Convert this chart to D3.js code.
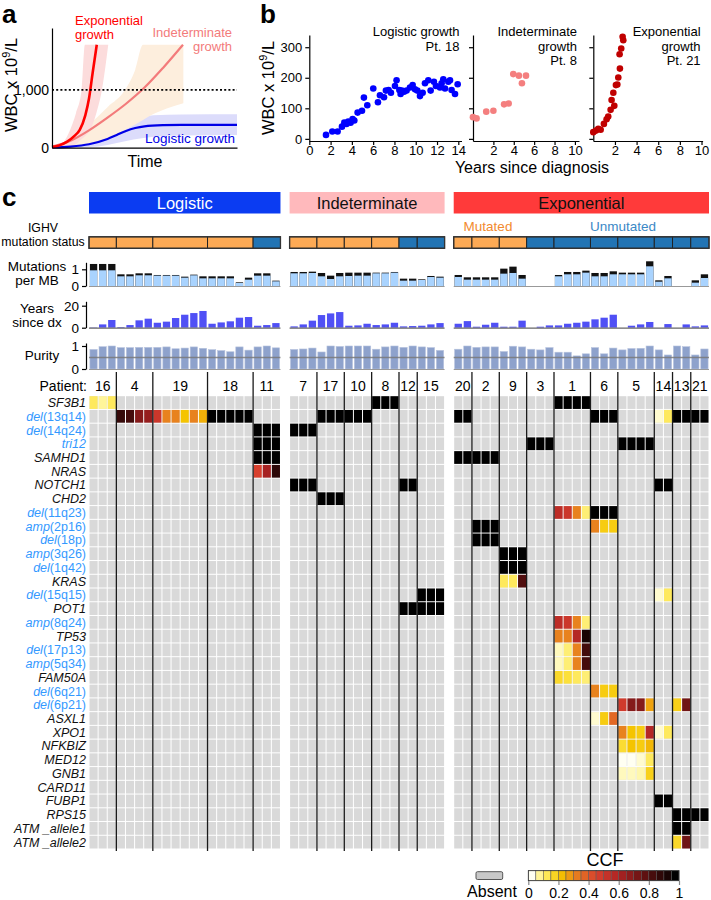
<!DOCTYPE html>
<html><head><meta charset="utf-8">
<script src="https://cdn.jsdelivr.net/npm/d3@7"></script>
<style>body{margin:0;background:#fff}svg{display:block}</style>
</head><body><svg id="chart" width="711" height="900"></svg>
<script>
// ---------------- DATA ----------------
// Panel a: schematic growth curves (time, WBC)
const expT   = [0, 0.4, 0.8, 1.2, 1.5, 1.8, 2.0, 2.2, 2.42];
const expWBC = [10, 40, 100, 200, 310, 560, 850, 1300, 1780];
const indT   = [0, 1, 2, 3, 4, 5, 6, 7.08];
const indWBC = [20, 120, 300, 520, 760, 1040, 1380, 1780];
const logT   = [0, 1, 2, 3, 3.5, 4, 4.5, 5, 6, 7, 8, 10];
const logWBC = [5, 20, 60, 150, 220, 290, 340, 370, 390, 395, 395, 395];
const expBandT  = [0.5, 0.9, 1.3, 1.6, 1.78, 2.0, 2.4, 2.7, 3.04];
const expBandHi = [30, 250, 600, 1000, 1780, 1780, 1780, 1780, 1780];
const expBandLo = [0, 15, 60, 150, 200, 270, 600, 1000, 1780];
const indBandT  = [0.4, 1, 2, 3, 3.95, 4.5, 4.92, 5.4, 6.2, 7.1];
const indBandHi = [10, 150, 400, 700, 1000, 1350, 1780, 1780, 1780, 1780];
const indBandLo = [0, 10, 60, 150, 310, 400, 480, 570, 680, 770];
const logBandT  = [0.4, 1.5, 2.5, 3.5, 4.4, 5.5, 7, 10];
const logBandHi = [10, 60, 220, 420, 510, 560, 575, 580];
const logBandLo = [0, 5, 20, 80, 140, 190, 210, 220];

// Panel b: patient WBC (years, WBC x10^9/L)
const pt18Years = [1.57,2.16,2.66,3.07,3.29,3.5,3.66,3.88,4.07,4.23,4.54,4.95,5.13,5.45,6.01,6.45,6.64,7.02,7.2,7.45,7.67,8.05,8.2,8.46,8.58,8.7,8.9,9.14,9.46,9.71,9.93,10.15,10.4,10.65,10.87,11.18,11.4,11.71,11.9,12.28,12.43,12.59,12.75,13.06,13.22,13.37,13.69,13.94];
const pt18WBC   = [13,24,24,40,53,49,57,53,65,60,86,92,135,110,165,120,143,136,158,160,151,173,192,160,147,158,154,158,168,176,162,158,140,151,182,192,158,187,173,168,182,195,165,187,192,160,147,179];
const pt8Years  = [0.0,0.35,1.3,2.0,3.05,3.5,3.95,4.5,4.8,5.2];
const pt8WBC    = [71,67,89,92,113,116,212,207,182,207];
const pt21Years = [0,0.25,0.46,0.68,0.98,1.23,1.38,1.6,1.69,1.85,1.94,2.09,2.22,2.31,2.46,2.43,2.58,2.71,2.77];
const pt21WBC   = [22,27,33,30,49,64,73,95,127,151,108,176,178,201,230,277,296,334,323];
const bTicksY = [0,100,200,300];
const bTicksX14 = [0,2,4,6,8,10,12,14];
const bTicksX10 = [2,4,6,8,10];

// Panel c
const groupNames = ["Logistic","Indeterminate","Exponential"];
const logPatients = ["16","4","19","18","11"];
const logSizes    = [3,4,6,5,3];
const logIGHV     = ["M","M","M","M","U"];
const indPatients = ["7","17","10","8","12","15"];
const indSizes    = [3,3,3,3,2,3];
const indIGHV     = ["M","M","M","M","U","U"];
const expPatients = ["20","2","9","3","1","6","5","14","13","21"];
const expSizes    = [2,3,3,3,4,3,4,2,2,2];
const expIGHV     = ["M","M","M","U","U","U","U","U","U","U"];

const logMutTotal = [1.32,1.32,1.32,0.70,0.70,0.76,0.76,0.66,0.66,0.66,0.56,0.68,0.58,0.58,0.58,0.58,0.22,0.50,0.76,0.76,0.32];
const logMutLight = [0.94,0.94,0.94,0.58,0.58,0.64,0.64,0.62,0.62,0.62,0.50,0.64,0.46,0.46,0.46,0.46,0.18,0.38,0.62,0.62,0.28];
const indMutTotal = [0.84,0.84,0.86,0.78,0.62,0.78,0.80,0.80,0.80,0.80,0.80,0.84,0.44,0.44,0.40,0.60,0.56];
const indMutLight = [0.76,0.76,0.78,0.58,0.42,0.58,0.60,0.62,0.62,0.76,0.76,0.80,0.32,0.32,0.36,0.54,0.50];
const expMutTotal = [0.66,0.52,0.52,0.52,0.52,1.04,1.16,0.66,null,null,null,0.66,0.84,0.84,0.92,0.78,0.78,0.88,0.80,0.80,0.80,1.48,0.34,0.60,null,null,0.34,0.70];
const expMutLight = [0.54,0.38,0.38,0.38,0.38,0.74,0.78,0.44,null,null,null,0.58,0.70,0.70,0.80,0.58,0.58,0.70,0.70,0.70,0.70,1.18,0.26,0.46,null,null,0.20,0.48];

const logYears = [0.3,3,7,0.6,2.4,6.7,8.2,4.5,5.5,8.8,11.8,13.3,15.2,3.6,4.8,5.8,9.1,9.7,1.8,2.4,4.2];
const indYears = [1.2,3,6.4,11.5,13,14.2,1.8,2.1,3.6,2.4,3,4.5,1.2,1.5,1.8,3,4.2];
const expYears = [3.6,6,0.9,2.7,4.5,0.9,0.9,6.4,0,0.9,2.1,2.1,3.6,4.5,5.5,7.6,9.1,11.8,0,1.8,3,5.2,0,3.3,0,3,1.2,2.1];

const logPurity = [0.85,0.97,1.0,0.93,0.93,0.94,0.94,0.94,0.96,0.88,0.91,0.96,0.9,0.84,0.8,0.75,0.96,0.82,0.96,1.0,0.92];
const indPurity = [0.85,0.87,0.91,0.74,1.0,0.98,1.0,1.0,1.0,0.86,0.96,1.0,0.94,1.0,0.96,0.93,0.81];
const expPurity = [0.86,1.0,0.94,0.96,0.96,0.76,0.99,0.96,0.86,0.83,0.93,0.73,0.73,0.57,0.66,0.93,0.66,0.91,0.83,0.89,0.9,1.0,0.83,0.61,1.0,0.97,0.61,0.87];

const rowNames = ["SF3B1","del(13q14)","del(14q24)","tri12","SAMHD1","NRAS","NOTCH1","CHD2","del(11q23)","amp(2p16)","del(18p)","amp(3q26)","del(1q42)","KRAS","del(15q15)","POT1","amp(8q24)","TP53","del(17p13)","amp(5q34)","FAM50A","del(6q21)","del(6p21)","ASXL1","XPO1","NFKBIZ","MED12","GNB1","CARD11","FUBP1","RPS15","ATM _allele1","ATM _allele2"];

// [row, group, first sample column in group, CCF values]
const ccfRuns = [
 ["SF3B1","Logistic",0,[0.1,0.05,0.1]],
 ["del(13q14)","Logistic",3,[0.88,0.85,0.7,0.66,0.5,0.3,0.3,0.2,0.3,0.23,1,1,1,1,1]],
 ["del(14q24)","Logistic",18,[1,1,1]],
 ["tri12","Logistic",18,[1,1,1]],
 ["SAMHD1","Logistic",18,[1,1,1]],
 ["NRAS","Logistic",18,[0.45,0.62,0.9]],
 ["SF3B1","Indeterminate",9,[1,1,1]],
 ["del(13q14)","Indeterminate",3,[1,1,1,1,1,1]],
 ["del(14q24)","Indeterminate",0,[1,1,1]],
 ["NOTCH1","Indeterminate",0,[1,1,1]],
 ["NOTCH1","Indeterminate",12,[1,1]],
 ["CHD2","Indeterminate",3,[1,1,1]],
 ["del(15q15)","Indeterminate",14,[1,1,1]],
 ["POT1","Indeterminate",12,[1,1,1,1,1]],
 ["SF3B1","Exponential",11,[1,1,1,1]],
 ["del(13q14)","Exponential",0,[1,1]],
 ["del(13q14)","Exponential",15,[1,1,1]],
 ["del(13q14)","Exponential",22,[0.02,0.1,1,1,1,1]],
 ["tri12","Exponential",8,[1,1,1]],
 ["tri12","Exponential",18,[1,1,1,1]],
 ["SAMHD1","Exponential",0,[1,1,1,1,1]],
 ["NOTCH1","Exponential",22,[1,1]],
 ["del(11q23)","Exponential",11,[0.55,0.5,0.3,0.08,1,1,1]],
 ["amp(2p16)","Exponential",2,[1,1,1]],
 ["amp(2p16)","Exponential",15,[0.3,0.18,0.18]],
 ["del(18p)","Exponential",2,[1,1,1]],
 ["amp(3q26)","Exponential",5,[1,1,1]],
 ["del(1q42)","Exponential",5,[1,1,1]],
 ["KRAS","Exponential",5,[0.1,0.1,0.82]],
 ["del(15q15)","Exponential",22,[0.02,0.1]],
 ["amp(8q24)","Exponential",11,[0.55,0.5,0.3,0.08]],
 ["TP53","Exponential",11,[0.3,0.3,0.58,0.95]],
 ["del(17p13)","Exponential",11,[0.03,0.08,0.3,0.85]],
 ["amp(5q34)","Exponential",11,[0.03,0.08,0.3,0.85]],
 ["FAM50A","Exponential",11,[0.15,0.13,0.1,0.08]],
 ["del(6q21)","Exponential",15,[0.3,0.18,0.18]],
 ["del(6p21)","Exponential",18,[0.48,0.7,0.7,0.25]],
 ["del(6p21)","Exponential",24,[0.17,0.75]],
 ["ASXL1","Exponential",15,[0.02,0.18,0.36]],
 ["XPO1","Exponential",18,[0.3,0.2,0.18,0.58,0.02,0.1]],
 ["NFKBIZ","Exponential",18,[0.14,0.2,0.18,0.22]],
 ["MED12","Exponential",18,[0,0,0.02,0.1]],
 ["GNB1","Exponential",18,[0.03,0.03,0.04,0.17]],
 ["FUBP1","Exponential",22,[1,1]],
 ["RPS15","Exponential",24,[1,1,1,1]],
 ["ATM _allele1","Exponential",24,[1,1]],
 ["ATM _allele2","Exponential",24,[0.15,0.75]]
];
const ccfTicks = [0,0.2,0.4,0.6,0.8,1];

// ---------------- DRAWING ----------------
const FONT = '"Liberation Sans", Arial, Helvetica, sans-serif';
const svg = d3.select("#chart").attr("font-family", FONT);

function styleAxis(sel, fs){
  sel.attr("font-family", FONT).attr("font-size", fs);
  sel.selectAll("path,line").attr("stroke","#000").attr("stroke-width",1.2);
  sel.selectAll("text").attr("fill","#000");
}

// ---- panel letters
[["a",2,23],["b",260,23],["c",2,206]].forEach(([t,x,y])=>
  svg.append("text").attr("x",x).attr("y",y).attr("font-size",26).attr("font-weight","bold").text(t));

// ---- Panel a
const aX = d3.scaleLinear().domain([0,10]).range([52,237]);
const aY = d3.scaleLinear().domain([0,2070]).range([147.7,28]);
function aBand(T, lo, hi, color){
  svg.append("path").datum(T)
    .attr("d", d3.area().x(d=>aX(d)).y0((d,i)=>aY(lo[i])).y1((d,i)=>aY(hi[i])).curve(d3.curveMonotoneX))
    .attr("fill", color);
}
aBand(logBandT, logBandLo, logBandHi, "#dcdcfb");
aBand(indBandT, indBandLo, indBandHi, "#fdeedd");
aBand(expBandT, expBandLo, expBandHi, "#fcdcdc");
function aCurve(T, W, color, w){
  svg.append("path").datum(T)
    .attr("d", d3.line().x(d=>aX(d)).y((d,i)=>aY(W[i])).curve(d3.curveMonotoneX))
    .attr("fill","none").attr("stroke",color).attr("stroke-width",w);
}
aCurve(logT, logWBC, "#0000e6", 2.2);
aCurve(indT, indWBC, "#f37b7b", 2.2);
aCurve(expT, expWBC, "#ff0000", 2.6);
svg.append("line").attr("x1",aX(0)).attr("x2",aX(10)).attr("y1",aY(1000)).attr("y2",aY(1000))
  .attr("stroke","#000").attr("stroke-width",1.6).attr("stroke-dasharray","2,2.2");
const aYAxis = svg.append("g").attr("transform",`translate(${aX(0)},0)`)
  .call(d3.axisLeft(aY).tickValues([0,1000]).tickFormat(d3.format(",")).tickSize(0).tickPadding(3).tickSizeOuter(0));
styleAxis(aYAxis, 14);
const aXAxis = svg.append("g").attr("transform",`translate(0,${aY(0)})`)
  .call(d3.axisBottom(aX).tickValues([]).tickSizeOuter(0));
styleAxis(aXAxis, 14);
svg.append("text").attr("transform","translate(17,85) rotate(-90)").attr("text-anchor","middle").attr("font-size",16.5)
  .call(t=>{t.append("tspan").text("WBC x 10");t.append("tspan").attr("font-size",11).attr("dy",-7).text("9");t.append("tspan").attr("dy",7).text("/L");});
svg.append("text").attr("x",145).attr("y",167).attr("text-anchor","middle").attr("font-size",16).text("Time");
svg.append("text").attr("x",75).attr("y",25).attr("font-size",13).attr("fill","#ff0000").text("Exponential");
svg.append("text").attr("x",75).attr("y",39).attr("font-size",13).attr("fill","#ff0000").text("growth");
svg.append("text").attr("x",232).attr("y",37).attr("text-anchor","end").attr("font-size",13).attr("fill","#f37b7b").text("Indeterminate");
svg.append("text").attr("x",232).attr("y",51).attr("text-anchor","end").attr("font-size",13).attr("fill","#f37b7b").text("growth");
svg.append("text").attr("x",235).attr("y",143).attr("text-anchor","end").attr("font-size",13.5).attr("fill","#0000e6").text("Logistic growth");

// ---- Panel b
const bY = d3.scaleLinear().domain([-7,340]).range([141,35]);
const bPlots = [
  {x:d3.scaleLinear().domain([0,14.3]).range([309.3,461.5]), xs:pt18Years, ys:pt18WBC, color:"#0000ff", ticks:bTicksX14, labelY:true, title:["Logistic growth","Pt. 18"]},
  {x:d3.scaleLinear().domain([0,10.4]).range([473,579]), xs:pt8Years, ys:pt8WBC, color:"#f47f7f", ticks:bTicksX10, labelY:false, title:["Indeterminate","growth","Pt. 8"]},
  {x:d3.scaleLinear().domain([0,10.1]).range([593.3,702.6]), xs:pt21Years, ys:pt21WBC, color:"#c00000", ticks:bTicksX10, labelY:false, title:["Exponential","growth","Pt. 21"]}
];
bPlots.forEach(p=>{
  const xa = svg.append("g").attr("transform",`translate(0,${bY(-7)})`)
    .call(d3.axisBottom(p.x).tickValues(p.ticks).tickSize(4).tickPadding(1).tickSizeOuter(0).tickFormat(d=>d));
  styleAxis(xa, 13);
  const ya = svg.append("g").attr("transform",`translate(${p.x(0)},0)`)
    .call(d3.axisLeft(bY).tickValues(bTicksY).tickSize(4).tickPadding(3).tickSizeOuter(0).tickFormat(p.labelY? d=>d : ()=>""));
  styleAxis(ya, 13);
  svg.append("g").selectAll("circle").data(p.xs).join("circle")
    .attr("cx",d=>p.x(d)).attr("cy",(d,i)=>bY(p.ys[i])).attr("r",3.3).attr("fill",p.color);
  const right = p.x.range()[1]-2;
  p.title.forEach((t,i)=>svg.append("text").attr("x",right).attr("y",36+i*14.5).attr("text-anchor","end").attr("font-size",13).text(t));
});
svg.append("text").attr("transform","translate(274,88) rotate(-90)").attr("text-anchor","middle").attr("font-size",16.5)
  .call(t=>{t.append("tspan").text("WBC x 10");t.append("tspan").attr("font-size",11).attr("dy",-7).text("9");t.append("tspan").attr("dy",7).text("/L");});
svg.append("text").attr("x",532).attr("y",173).attr("text-anchor","middle").attr("font-size",16).text("Years since diagnosis");

// ---- Panel c
const groups = [
  {name:"Logistic", patients:logPatients, sizes:logSizes, ighv:logIGHV, mutT:logMutTotal, mutL:logMutLight, years:logYears, purity:logPurity, fill:"#0b3cf2", text:"#fff"},
  {name:"Indeterminate", patients:indPatients, sizes:indSizes, ighv:indIGHV, mutT:indMutTotal, mutL:indMutLight, years:indYears, purity:indPurity, fill:"#ffb9bc", text:"#111"},
  {name:"Exponential", patients:expPatients, sizes:expSizes, ighv:expIGHV, mutT:expMutTotal, mutL:expMutLight, years:expYears, purity:expPurity, fill:"#ff3a3a", text:"#111"}
];
const colKeys = [];
groups.forEach((gr,gi)=>{ if(gi>0) colKeys.push("gap"+gi); d3.range(d3.sum(gr.sizes)).forEach(i=>colKeys.push(gr.name+i)); });
const xCol = d3.scaleBand().domain(colKeys).range([89,709]);
const bw = xCol.bandwidth();
const yRow = d3.scaleBand().domain(rowNames).range([395.7,849]);
const bh = yRow.bandwidth();

const mutY = d3.scaleLinear().domain([0,1.42]).range([286,262.3]);
const yrsY = d3.scaleLinear().domain([0,24]).range([327.7,301.3]);
const purY = d3.scaleLinear().domain([0,1.13]).range([369,343]);

const ccfColor = d3.scaleLinear().domain([0,0.05,0.12,0.2,0.3,0.45,0.6,0.8,1])
  .range(["#fffff2","#fff59a","#fde444","#f5c400","#e8821e","#d8402e","#b02424","#5a1010","#000000"]);

groups.forEach(gr=>{
  const n = d3.sum(gr.sizes);
  const keys = d3.range(n).map(i=>gr.name+i);
  const x0 = xCol(keys[0]), x1 = xCol(keys[n-1])+bw;
  const starts = d3.cumsum([0].concat(gr.sizes.slice(0,-1)));
  // header
  svg.append("rect").attr("x",x0).attr("y",192).attr("width",x1-x0).attr("height",21.5).attr("fill",gr.fill);
  svg.append("text").attr("x",(x0+x1)/2).attr("y",208.5).attr("text-anchor","middle").attr("font-size",16.5).attr("fill",gr.text).text(gr.name);
  // IGHV
  gr.patients.forEach((p,pi)=>{
    const a = xCol(keys[starts[pi]]), b = xCol(keys[starts[pi]+gr.sizes[pi]-1])+bw;
    svg.append("rect").attr("x",a).attr("y",236.8).attr("width",b-a).attr("height",11.5)
      .attr("fill", gr.ighv[pi]==="M" ? "#fdaa55" : "#2274b4").attr("stroke","#222").attr("stroke-width",1);
  });
  svg.append("rect").attr("x",x0).attr("y",236.8).attr("width",x1-x0).attr("height",11.5).attr("fill","none").attr("stroke","#333").attr("stroke-width",1.3);
  // mutation bars
  const gm = svg.append("g");
  keys.forEach((k,i)=>{
    if(gr.mutT[i]==null) return;
    gm.append("rect").attr("x",xCol(k)+0.9).attr("width",bw-1.8).attr("y",mutY(gr.mutT[i])).attr("height",mutY(0)-mutY(gr.mutT[i])).attr("fill","#111");
    gm.append("rect").attr("x",xCol(k)+0.9).attr("width",bw-1.8).attr("y",mutY(gr.mutL[i])).attr("height",mutY(0)-mutY(gr.mutL[i])).attr("fill","#a9d3fe");
  });
  svg.append("line").attr("x1",x0).attr("x2",x1).attr("y1",mutY(0)+0.5).attr("y2",mutY(0)+0.5).attr("stroke","#999").attr("stroke-width",1.2);
  // years bars
  keys.forEach((k,i)=>{
    svg.append("rect").attr("x",xCol(k)+0.9).attr("width",bw-1.8).attr("y",yrsY(gr.years[i])).attr("height",yrsY(0)-yrsY(gr.years[i])).attr("fill","#5050f5");
  });
  svg.append("line").attr("x1",x0).attr("x2",x1).attr("y1",yrsY(0)+0.5).attr("y2",yrsY(0)+0.5).attr("stroke","#666").attr("stroke-width",1.2);
  // purity bars
  keys.forEach((k,i)=>{
    svg.append("rect").attr("x",xCol(k)+0.9).attr("width",bw-1.8).attr("y",purY(gr.purity[i])).attr("height",purY(0)-purY(gr.purity[i])).attr("fill","#8ea2cc").attr("stroke","#b8c4de").attr("stroke-width",0.6);
  });
  svg.append("line").attr("x1",x0).attr("x2",x1).attr("y1",purY(0.5)).attr("y2",purY(0.5)).attr("stroke","#7a7a7a").attr("stroke-width",1.5).attr("opacity",0.85);
  svg.append("line").attr("x1",x0).attr("x2",x1).attr("y1",purY(0)+0.5).attr("y2",purY(0)+0.5).attr("stroke","#999").attr("stroke-width",1);
  // heatmap background cells
  const gh = svg.append("g");
  rowNames.forEach(r=>keys.forEach(k=>{
    gh.append("rect").attr("x",xCol(k)+0.5).attr("y",yRow(r)+0.5).attr("width",bw-1).attr("height",bh-1).attr("fill","#d9d9d9");
  }));
  // patient labels and dividers
  gr.patients.forEach((p,pi)=>{
    const a = xCol(keys[starts[pi]]), b = xCol(keys[starts[pi]+gr.sizes[pi]-1])+bw;
    svg.append("text").attr("x",(a+b)/2).attr("y",391).attr("text-anchor","middle").attr("font-size",14).text(p);
    if(pi>0) svg.append("line").attr("class","divider").attr("x1",a).attr("x2",a).attr("y1",372).attr("y2",851).attr("stroke","#1a1a1a").attr("stroke-width",1.3);
  });
});
// CCF cells
const gc = svg.append("g");
ccfRuns.forEach(([r,grp,start,vals])=>{
  vals.forEach((v,i)=>{
    const k = grp+(start+i);
    gc.append("rect").attr("x",xCol(k)+0.5).attr("y",yRow(r)+0.5).attr("width",bw-1).attr("height",bh-1).attr("fill",ccfColor(v));
  });
});
svg.selectAll(".divider").raise();

// IGHV mutated/unmutated labels
svg.append("text").attr("x",488).attr("y",231).attr("text-anchor","middle").attr("font-size",13.5).attr("fill","#f28a2e").text("Mutated");
svg.append("text").attr("x",623).attr("y",231).attr("text-anchor","middle").attr("font-size",13.5).attr("fill","#3b88c6").text("Unmutated");

// left track labels
function lbl(lines, x, y, fs){ lines.forEach((t,i)=>svg.append("text").attr("x",x).attr("y",y+i*14).attr("text-anchor","middle").attr("font-size",fs||13.5).text(t)); }
lbl(["IGHV","mutation status"], 43, 232, 12.3);
lbl(["Mutations","per MB"], 37, 271);
lbl(["Years","since dx"], 37, 313);
lbl(["Purity"], 42, 360);
const fmt = d=>d;
styleAxis(svg.append("g").attr("transform","translate(86,0)").call(d3.axisLeft(mutY).tickValues([0,1]).tickFormat(fmt).tickSize(4).tickPadding(3).tickSizeOuter(0)),13.5);
styleAxis(svg.append("g").attr("transform","translate(86,0)").call(d3.axisLeft(yrsY).tickValues([0,20]).tickFormat(fmt).tickSize(4).tickPadding(3).tickSizeOuter(0)),13.5);
styleAxis(svg.append("g").attr("transform","translate(86,0)").call(d3.axisLeft(purY).tickValues([0,1]).tickFormat(fmt).tickSize(4).tickPadding(3).tickSizeOuter(0)),13.5);
svg.append("text").attr("x",87).attr("y",391).attr("text-anchor","end").attr("font-size",14).text("Patient:");

// row labels
rowNames.forEach(n=>{
  const t = svg.append("text").attr("x",86).attr("y",yRow(n)+bh/2).attr("dy","0.36em").attr("text-anchor","end").attr("font-size",12.5);
  const m = n.match(/^(del|amp)(\(.*\))$/);
  if(m){ t.attr("fill","#3399ff"); t.append("tspan").attr("font-style","italic").text(m[1]); t.append("tspan").text(m[2]); }
  else if(n==="tri12"){ t.attr("fill","#3399ff").attr("font-style","italic").text(n); }
  else { t.attr("fill","#111").attr("font-style","italic").text(n); }
});

// legend
svg.append("rect").attr("x",476).attr("y",871.7).attr("width",26.7).attr("height",7.8).attr("rx",1.5).attr("fill","#c8c8c8").attr("stroke","#555").attr("stroke-width",1);
svg.append("text").attr("x",492).attr("y",897).attr("text-anchor","middle").attr("font-size",16).text("Absent");
const lx = d3.scaleLinear().domain([0,1]).range([528.3,679]);
const nCells = 20;
d3.range(nCells).forEach(i=>{
  svg.append("rect").attr("x",lx(i/nCells)).attr("y",870.7).attr("width",lx(1/nCells)-lx(0)).attr("height",10)
    .attr("fill",ccfColor(i/(nCells-1))).attr("stroke","#555").attr("stroke-width",0.5);
});
svg.append("rect").attr("x",lx(0)).attr("y",870.7).attr("width",lx(1)-lx(0)).attr("height",10).attr("fill","none").attr("stroke","#333").attr("stroke-width",0.8);
const la = svg.append("g").attr("transform","translate(0,881)").call(d3.axisBottom(lx).tickValues(ccfTicks).tickFormat(d=>d).tickSize(4).tickPadding(3));
styleAxis(la, 14);
la.select(".domain").remove();
la.selectAll("line").attr("stroke","#888");
svg.append("text").attr("x",605).attr("y",866).attr("text-anchor","middle").attr("font-size",18).text("CCF");
</script></body></html>
